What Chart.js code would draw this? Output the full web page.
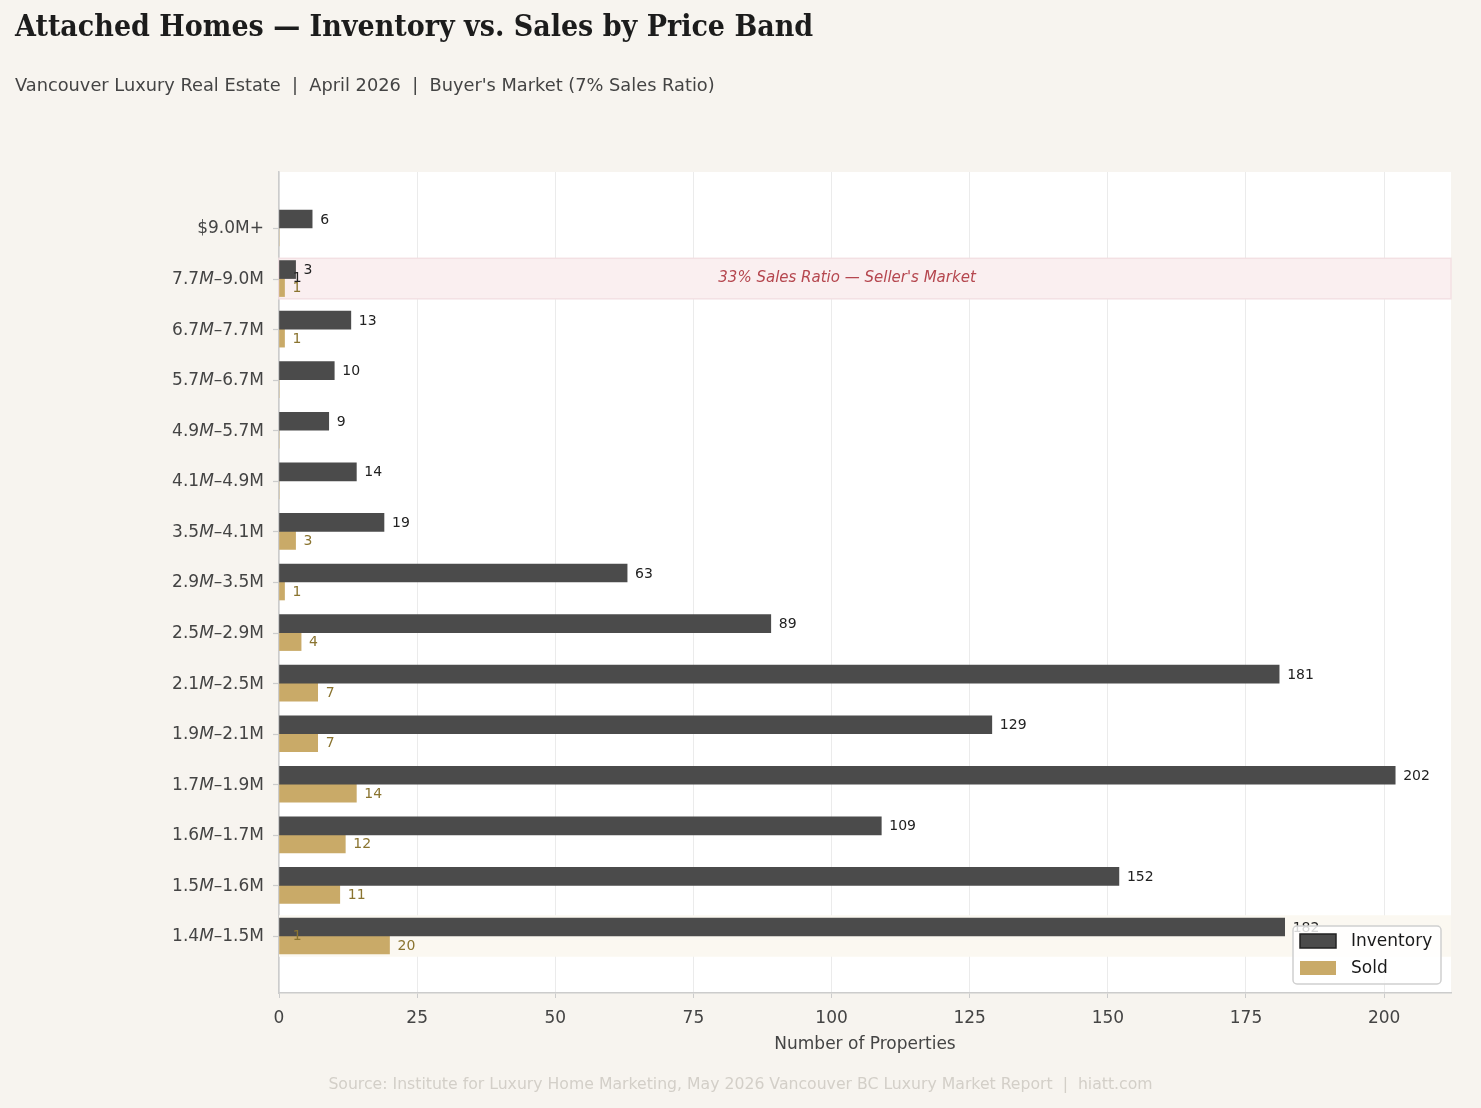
<!DOCTYPE html>
<html><head><meta charset="utf-8">
<script src="https://cdn.jsdelivr.net/npm/chart.js@4.4.1/dist/chart.umd.min.js"></script>
<style>
html,body{margin:0;padding:0;background:#f7f4ef;width:1481px;height:1108px;overflow:hidden}
#wrap{position:relative;width:1481px;height:1108px}
canvas{position:absolute;left:0;top:0}
#title{position:absolute;left:15px;top:7px;font-family:'DejaVu Serif';font-weight:bold;font-stretch:condensed;font-size:30px;color:#1c1c1c;white-space:nowrap;line-height:38px}
#sub{position:absolute;left:15px;top:73px;font-family:'DejaVu Sans';font-size:17.8px;color:#444;white-space:pre;line-height:24px}
#foot{position:absolute;left:0;width:1481px;text-align:center;top:1073px;font-family:'DejaVu Sans';font-size:15.7px;color:#d3cfc8;white-space:pre;line-height:22px}
</style></head>
<body><div id="wrap">
<canvas id="c" width="1481" height="1108"></canvas>
<div id="title">Attached Homes — Inventory vs. Sales by Price Band</div>
<div id="sub">Vancouver Luxury Real Estate  |  April 2026  |  Buyer's Market (7% Sales Ratio)</div>
<div id="foot">Source: Institute for Luxury Home Marketing, May 2026 Vancouver BC Luxury Market Report  |  hiatt.com</div>
</div>
<script>
const categories = ['$9.0M+','7.7M–9.0M','6.7M–7.7M','5.7M–6.7M','4.9M–5.7M','4.1M–4.9M','3.5M–4.1M','2.9M–3.5M','2.5M–2.9M','2.1M–2.5M','1.9M–2.1M','1.7M–1.9M','1.6M–1.7M','1.5M–1.6M','1.4M–1.5M'];
const inventory = [6,3,13,10,9,14,19,63,89,181,129,202,109,152,182];
const sold = [0,1,1,0,0,0,3,1,4,7,7,14,12,11,20];
const seriesNames = ['Inventory','Sold'];
const xTicks = [0,25,50,75,100,125,150,175,200];
const xMax = 212.1;
const highlightRow = 1;
const highlightText = "33% Sales Ratio — Seller's Market";
const highlightTextX = 102.8;
const baseRow = 14;
const strayLabels = [{row:1, x:2.5, text:'1', series:0},{row:14, x:2.5, text:'1', series:1}];

const COLORS = {inv:'#4b4b4b', sold:'#c9aa68', invLbl:'#222222', soldLbl:'#8a7430', tick:'#444444', spine:'#cccccc', grid:'#ebebeb'};
const F = "'DejaVu Sans', sans-serif";

const deco = {
  id:'deco',
  beforeDraw(chart){
    const {ctx, chartArea:a} = chart;
    ctx.save();
    ctx.fillStyle = '#ffffff';
    ctx.fillRect(a.left, a.top, a.right-a.left, a.bottom-a.top);
    ctx.restore();
  },
  beforeDatasetsDraw(chart){
    const {ctx, chartArea:a, scales:{x,y}} = chart;
    ctx.save();
    let t = y.getPixelForValue(baseRow-0.41), b = y.getPixelForValue(baseRow+0.41);
    ctx.fillStyle = '#fbf8f1';
    ctx.fillRect(a.left, t, a.right-a.left, b-t);
    t = y.getPixelForValue(highlightRow-0.4); b = y.getPixelForValue(highlightRow+0.4);
    ctx.fillStyle = '#faeff0';
    ctx.fillRect(a.left, t, a.right-a.left, b-t);
    ctx.strokeStyle = '#f3e0e3'; ctx.lineWidth = 1.5;
    ctx.strokeRect(a.left, t, a.right-a.left, b-t);
    ctx.fillStyle = '#b5474f';
    ctx.font = 'italic 15px ' + F;
    ctx.textAlign = 'center'; ctx.textBaseline = 'middle';
    ctx.fillText(highlightText, x.getPixelForValue(highlightTextX), y.getPixelForValue(highlightRow));
    ctx.restore();
  },
  afterDatasetsDraw(chart){
    const {ctx, chartArea:a, scales:{x,y}} = chart;
    ctx.save();
    ctx.font = '14px ' + F;
    ctx.textAlign = 'left'; ctx.textBaseline = 'middle';
    chart.data.datasets.forEach((ds, di) => {
      const meta = chart.getDatasetMeta(di);
      meta.data.forEach((bar, i) => {
        const v = ds.data[i].x;
        if (!v) return;
        ctx.fillStyle = di === 0 ? COLORS.invLbl : COLORS.soldLbl;
        ctx.fillText(String(v), bar.x + 8, bar.y + 1);
      });
    });
    strayLabels.forEach(s => {
      ctx.fillStyle = s.series === 0 ? COLORS.invLbl : COLORS.soldLbl;
      ctx.fillText(s.text, x.getPixelForValue(s.x), y.getPixelForValue(s.row));
    });
    const lx = 1293, ly = 926, lw = 148, lh = 58;
    ctx.fillStyle = 'rgba(255,255,255,0.82)';
    ctx.strokeStyle = '#cfcfcf'; ctx.lineWidth = 1.5;
    ctx.beginPath(); ctx.roundRect(lx, ly, lw, lh, 4); ctx.fill(); ctx.stroke();
    chart.data.datasets.forEach((ds, k) => {
      const sy = ly + 8 + k*27;
      ctx.fillStyle = ds.backgroundColor;
      ctx.fillRect(lx+7, sy, 36, 14);
      if (k === 0) { ctx.strokeStyle = '#222'; ctx.lineWidth = 1.5; ctx.strokeRect(lx+7, sy, 36, 14); }
      ctx.fillStyle = '#1a1a1a';
      ctx.font = '17px ' + F;
      ctx.fillText(ds.label, lx+58, sy+8);
    });
    ctx.restore();
  },
  afterDraw(chart){
    const {ctx, chartArea:a, scales:{y}} = chart;
    ctx.save();
    ctx.fillStyle = COLORS.tick; ctx.textBaseline = 'middle'; ctx.textAlign = 'left';
    ctx.strokeStyle = COLORS.spine; ctx.lineWidth = 1.2;
    const right = 264;
    categories.forEach((lab, i) => {
      const ty = Math.round(y.getPixelForValue(i)) + 0.5;
      ctx.beginPath(); ctx.moveTo(a.left - 6, ty); ctx.lineTo(a.left, ty); ctx.stroke();
      const py = y.getPixelForValue(i) + 1;
      const k = lab.indexOf('M–');
      const parts = k < 0 ? [[lab,false]] : [[lab.slice(0,k),false],['M',true],[lab.slice(k+1),false]];
      let w = 0;
      parts.forEach(p => { ctx.font = (p[1]?'italic ':'') + '17px ' + F; w += ctx.measureText(p[0]).width; });
      let px = right - w;
      parts.forEach(p => { ctx.font = (p[1]?'italic ':'') + '17px ' + F; ctx.fillText(p[0], px, py); px += ctx.measureText(p[0]).width; });
    });
    ctx.restore();
  }
};

new Chart(document.getElementById('c'), {
  type:'bar',
  data:{
    datasets:[
      {label:seriesNames[0], data: inventory.map((v,i)=>({x:v,y:i})), backgroundColor:COLORS.inv, barThickness:18, borderWidth:0},
      {label:seriesNames[1], data: sold.map((v,i)=>({x:v,y:i})), backgroundColor:COLORS.sold, barThickness:18, borderWidth:0}
    ]
  },
  options:{
    indexAxis:'y', responsive:false, animation:false, devicePixelRatio:1,
    layout:{padding:{left:0, top:172, right:30, bottom:0}},
    plugins:{legend:{display:false}, tooltip:{enabled:false}, title:{display:false}},
    scales:{
      x:{type:'linear', position:'bottom', min:0, max:xMax, offset:false,
        afterBuildTicks(s){ s.ticks = xTicks.map(v=>({value:v})); },
        afterFit(s){ s.height = 115; },
        ticks:{font:{family:F, size:17}, color:COLORS.tick, padding:10},
        grid:{color:COLORS.grid, lineWidth:1, tickColor:COLORS.spine, tickLength:5, drawTicks:true},
        border:{color:COLORS.spine, width:1.5},
        title:{display:true, text:'Number of Properties', font:{family:F, size:17}, color:COLORS.tick, padding:{top:0, bottom:53}}
      },
      y:{type:'linear', reverse:true, min:-1.107, max:15.127, offset:false,
        afterBuildTicks(s){ s.ticks = categories.map((_,i)=>({value:i})); },
        afterFit(s){ s.width = 279; },
        ticks:{display:false},
        grid:{display:false},
        border:{color:COLORS.spine, width:1.5}
      }
    }
  },
  plugins:[deco]
});
</script>
</body></html>
